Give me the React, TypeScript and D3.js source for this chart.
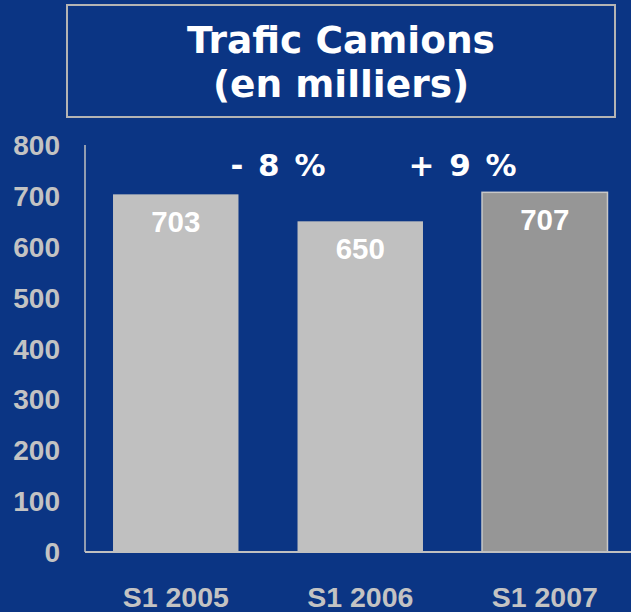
import React from 'react';
import * as d3 from 'd3';

const categories = ['S1 2005', 'S1 2006', 'S1 2007'];
const values = [703, 650, 707];
const yTicks = [0, 100, 200, 300, 400, 500, 600, 700, 800];
const changes = ['- 8 %', '+ 9 %'];
const titleLines = ['Trafic Camions', '(en milliers)'];

const W = 631;
const H = 612;
const bg = '#0b3584';
const gray = '#c3c3c3';

const App = () => {
    const x = d3.scaleBand<string>()
        .domain(categories)
        .range([83.5, 637])
        .paddingInner(0.32)
        .paddingOuter(0.16);

    const y = d3.scaleLinear()
        .domain([0, 800])
        .range([552, 145]);

    const arial = '"Liberation Sans", Arial, sans-serif';
    const verdana = '"DejaVu Sans", Verdana, sans-serif';

    return (
        <svg width={W} height={H} style={{ position: 'absolute', left: 0, top: 0, display: 'block' }}>
            <rect x={0} y={0} width={W} height={H} fill={bg} />

            {/* title box */}
            <rect x={67} y={5} width={548} height={112} fill="none" stroke="#b4b4b4" strokeWidth={2} />
            {titleLines.map((t, i) => (
                <text key={t} x={341} y={53 + i * 44} textAnchor="middle" fill="#fff"
                    fontFamily={verdana} fontWeight="bold" fontSize={37.5}>{t}</text>
            ))}

            {/* y axis labels */}
            {yTicks.map(t => (
                <text key={t} x={60} y={y(t)} dy="0.36em" textAnchor="end" fill={gray}
                    fontFamily={arial} fontWeight="bold" fontSize={28}>{t}</text>
            ))}

            {/* bars */}
            {categories.map((c, i) => (
                <rect key={c} x={x(c)} y={y(values[i])} width={x.bandwidth()}
                    height={y(0) - y(values[i])}
                    fill={i === 2 ? '#969696' : '#c0c0c0'}
                    stroke={i === 2 ? '#c8c8c8' : 'none'} strokeWidth={1.5} />
            ))}

            {/* axes */}
            <line x1={85} x2={85} y1={145} y2={552} stroke="#c0c0c0" strokeWidth={1.5} />
            <line x1={85} x2={W} y1={552} y2={552} stroke="#c0c0c0" strokeWidth={2} />

            {/* value labels */}
            {categories.map((c, i) => (
                <text key={c} x={x(c)! + x.bandwidth() / 2} y={y(values[i]) + 38}
                    textAnchor="middle" fill="#fff"
                    fontFamily={arial} fontWeight="bold" fontSize={29.5}>{values[i]}</text>
            ))}

            {/* change labels between bars */}
            {changes.map((t, i) => {
                const gapMid = (x(categories[i])! + x.bandwidth() + x(categories[i + 1])!) / 2;
                return (
                    <text key={t} x={gapMid + 11} y={176} textAnchor="middle" fill="#fff"
                        fontFamily={verdana} fontWeight="bold" fontSize={31} letterSpacing={2}
                        style={{ whiteSpace: 'pre' }}>{t}</text>
                );
            })}

            {/* category labels */}
            {categories.map(c => (
                <text key={c} x={x(c)! + x.bandwidth() / 2} y={607} textAnchor="middle" fill={gray}
                    fontFamily={arial} fontWeight="bold" fontSize={28.5}>{c}</text>
            ))}
        </svg>
    );
};

export default App;
